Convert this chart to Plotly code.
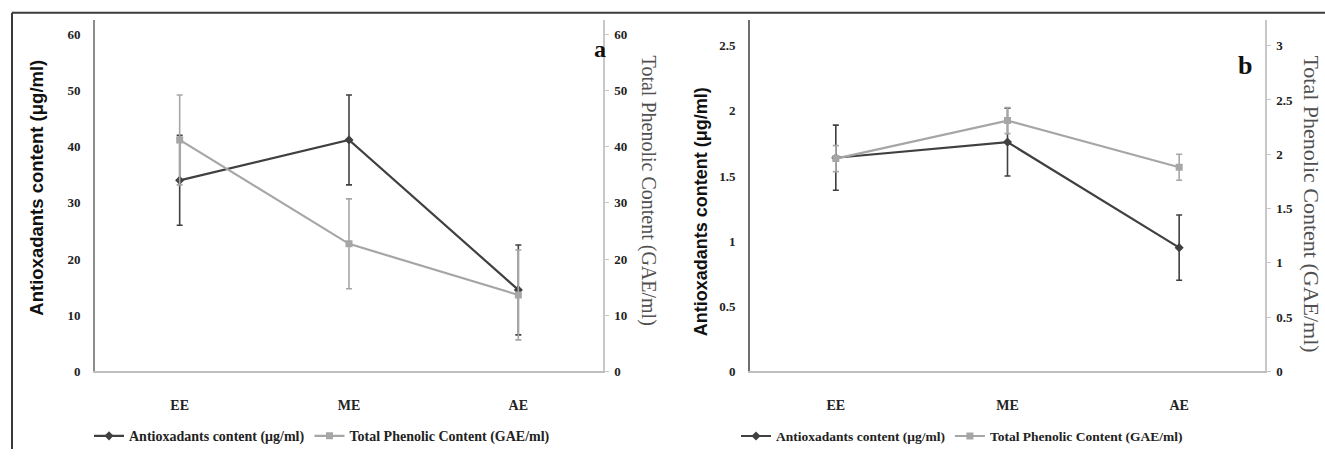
import plotly.graph_objects as go

categories = ["EE", "ME", "AE"]

a_antiox = [34.0, 41.2, 14.5]
a_antiox_err = [8.0, 8.0, 8.0]
a_tpc = [41.2, 22.7, 13.6]
a_tpc_err = [8.0, 8.0, 8.0]

b_antiox = [1.64, 1.76, 0.95]
b_antiox_err = [0.25, 0.26, 0.25]
b_tpc = [1.96, 2.31, 1.88]
b_tpc_err = [0.12, 0.12, 0.12]

name_antiox = "Antioxadants content (μg/ml)"
name_tpc = "Total Phenolic Content (GAE/ml)"
left_title = "Antioxadants content (μg/ml)"
right_title = "Total Phenolic Content (GAE/ml)"

W, H = 1325, 457
DARK = "#404040"
LIGHT = "#a6a6a6"
SERIF = "Liberation Serif"
SANS = "Liberation Sans"


def px(x):
    return x / W


def py(y):
    return 1 - y / H


fig = go.Figure()


def add_series(x_ax, y_ax, vals, errs, color, symbol, name, legend, msize):
    fig.add_trace(go.Scatter(
        x=categories, y=vals, xaxis=x_ax, yaxis=y_ax, name=name, legend=legend,
        mode="lines+markers",
        line=dict(color=color, width=2.2),
        marker=dict(symbol=symbol, size=msize, color=color),
        error_y=dict(type="data", array=errs, visible=True, color=color,
                     thickness=1.6, width=3),
    ))


add_series("x", "y", a_antiox, a_antiox_err, DARK, "diamond", name_antiox, "legend", 7)
add_series("x", "y2", a_tpc, a_tpc_err, LIGHT, "square", name_tpc, "legend", 7)
add_series("x2", "y3", b_antiox, b_antiox_err, DARK, "diamond", name_antiox, "legend2", 7)
add_series("x2", "y4", b_tpc, b_tpc_err, LIGHT, "square", name_tpc, "legend2", 7)

ydom = [py(378), py(20)]
tickfont = dict(family=SERIF, size=13, color="#222222", weight="bold")
catfont = dict(family=SERIF, size=14, color="#222222", weight="bold")

xa = dict(type="category", range=[-0.5, 2.5], showline=True, linecolor="#bfbfbf",
          linewidth=2, ticks="", showgrid=False, zeroline=False,
          tickfont=catfont, ticklabelstandoff=20, fixedrange=True)

fig.update_layout(
    width=W, height=H,
    margin=dict(l=0, r=0, t=0, b=0),
    paper_bgcolor="white", plot_bgcolor="white",
    showlegend=True,
    xaxis=dict(domain=[px(95), px(603)], anchor="y", **xa),
    xaxis2=dict(domain=[px(750), px(1265)], anchor="y3", **xa),
    yaxis=dict(domain=ydom, anchor="x", range=[0, 62.6], dtick=10, tick0=0,
               showline=True, linecolor="#8c8c8c", linewidth=2, ticks="",
               showgrid=False, zeroline=False, tickfont=tickfont,
               ticklabelstandoff=10),
    yaxis2=dict(domain=ydom, anchor="x", overlaying="y", side="right",
                range=[0, 62.6], dtick=10, tick0=0, showline=True,
                linecolor="#c8c8c8", linewidth=1.5, ticks="outside", ticklen=4,
                tickcolor="#c8c8c8", showgrid=False, zeroline=False,
                tickfont=tickfont, ticklabelstandoff=3),
    yaxis3=dict(domain=ydom, anchor="x2", range=[0, 2.70], dtick=0.5, tick0=0,
                showline=True, linecolor="#6f6f6f", linewidth=2, ticks="",
                showgrid=False, zeroline=False, tickfont=tickfont,
                ticklabelstandoff=10),
    yaxis4=dict(domain=ydom, anchor="x2", overlaying="y3", side="right",
                range=[0, 3.24], dtick=0.5, tick0=0, showline=True,
                linecolor="#c8c8c8", linewidth=1.5, ticks="outside", ticklen=4,
                tickcolor="#c8c8c8", showgrid=False, zeroline=False,
                tickfont=tickfont, ticklabelstandoff=3),
    legend=dict(orientation="h", x=px(89), y=py(444), xanchor="left",
                yanchor="middle",
                font=dict(family=SERIF, size=14, color="#222222", weight="bold"),
                itemwidth=30, tracegroupgap=0, bgcolor="rgba(0,0,0,0)"),
    legend2=dict(orientation="h", x=px(736), y=py(444), xanchor="left",
                 yanchor="middle",
                 font=dict(family=SERIF, size=13.5, color="#222222", weight="bold"),
                 itemwidth=30, tracegroupgap=0, bgcolor="rgba(0,0,0,0)"),
)

annotations = [
    dict(x=px(37), y=py(191), text="<b>" + left_title + "</b>", textangle=-90,
         font=dict(family=SANS, size=18.5, color="#111")),
    dict(x=px(701), y=py(216), text="<b>" + left_title + "</b>", textangle=-90,
         font=dict(family=SANS, size=18, color="#111")),
    dict(x=px(648), y=py(194), text=right_title, textangle=90,
         font=dict(family=SERIF, size=20, color="#505050")),
    dict(x=px(1312), y=py(207), text=right_title, textangle=90,
         font=dict(family=SERIF, size=22, color="#505050")),
    dict(x=px(600), y=py(50), text="<b>a</b>",
         font=dict(family=SERIF, size=24, color="#111")),
    dict(x=px(1245), y=py(67), text="<b>b</b>",
         font=dict(family=SERIF, size=26, color="#111")),
]
for a in annotations:
    a.update(xref="paper", yref="paper", showarrow=False,
             xanchor="center", yanchor="middle")
fig.update_layout(annotations=annotations)

fig.update_layout(shapes=[
    dict(type="line", xref="paper", yref="paper", x0=px(12), x1=1,
         y0=py(13), y1=py(13), line=dict(color="#3a3a3a", width=2)),
    dict(type="line", xref="paper", yref="paper", x0=px(12), x1=px(12),
         y0=0, y1=py(13), line=dict(color="#3a3a3a", width=2)),
])

fig.write_html("out.html")
